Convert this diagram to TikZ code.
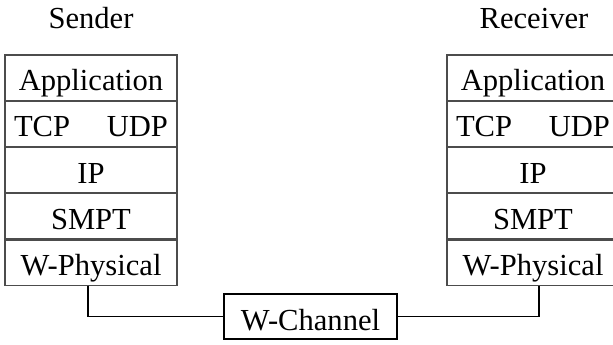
\documentclass[tikz,border=0pt]{standalone}
\usepackage{fontspec}
\setmainfont{Liberation Serif}
\usetikzlibrary{positioning}

\tikzset{
    layer/.style={draw=black!70, line width=0.6pt, minimum width=3.44cm, minimum height=0.904cm, inner sep=0pt, text height=0.52cm, text depth=0pt},
    wire/.style={draw=black, line width=0.7pt}
}

\begin{document}
\begin{tikzpicture}[font=\fontsize{17.4}{20}\selectfont, node distance=0pt]
    \useasboundingbox (0,0) rectangle (12.26,6.9);

    % Sender stack
    \node[anchor=base] (sender) at (1.82, 6.32) {Sender};
    \node[layer] (sapp) at (1.82, 5.348) {Application};
    \node[layer, below=of sapp] (stcp) {TCP\hspace{1.2em}UDP};
    \node[layer, below=of stcp] (sip) {IP};
    \node[layer, below=of sip] (ssmpt) {SMPT};
    \node[layer, below=of ssmpt] (sphy) {W-Physical};

    % Receiver stack
    \node[anchor=base] (receiver) at (10.68, 6.32) {Receiver};
    \node[layer] (rapp) at (10.66, 5.348) {Application};
    \node[layer, below=of rapp] (rtcp) {TCP\hspace{1.2em}UDP};
    \node[layer, below=of rtcp] (rip) {IP};
    \node[layer, below=of rip] (rsmpt) {SMPT};
    \node[layer, below=of rsmpt] (rphy) {W-Physical};

    % The channel between them
    \node[draw=black, line width=0.6pt, minimum width=3.46cm, minimum height=0.9cm, inner sep=0pt, text height=0.55cm, text depth=0pt] (chan) at (6.21, 0.57) {W-Channel};

    \draw[wire] ([xshift=-0.06cm]sphy.south) |- (chan.west);
    \draw[wire] (chan.east) -| ([xshift=0.12cm]rphy.south);
\end{tikzpicture}
\end{document}
